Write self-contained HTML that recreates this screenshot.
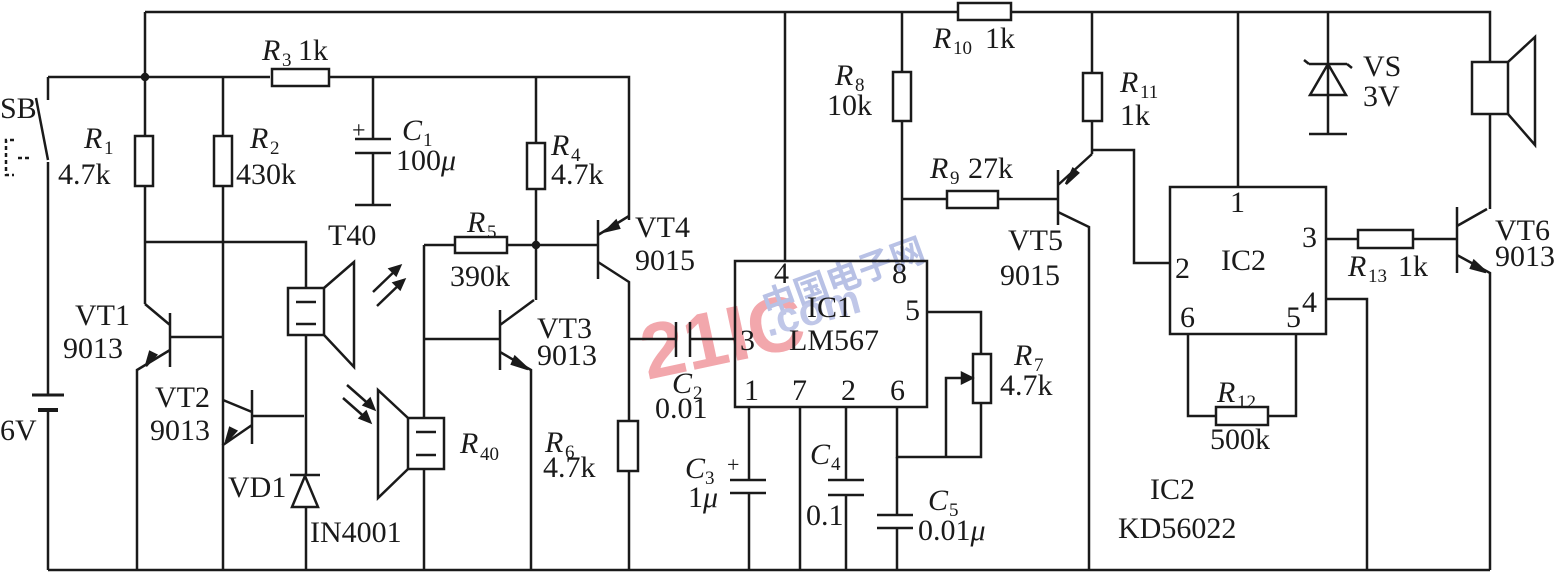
<!DOCTYPE html>
<html><head><meta charset="utf-8"><style>
html,body{margin:0;padding:0;background:#fff;}
svg{display:block;}
text{font-family:"Liberation Serif",serif;font-size:30px;fill:#1a1a1a;}
.i{font-style:italic;}
.s{font-size:19px;}
</style></head><body>
<svg width="1558" height="575" viewBox="0 0 1558 575" xmlns="http://www.w3.org/2000/svg">
<!-- watermark -->
<g opacity="0.55">
<text x="640" y="370" transform="rotate(-12 690 340)" style="font-family:'Liberation Sans',sans-serif;font-weight:bold;font-size:78px;fill:#e8606a">21IC</text>
<text x="760" y="305" transform="rotate(-20 800 290)" style="font-family:'Liberation Sans','Noto Sans CJK SC',sans-serif;font-weight:bold;font-size:34px;fill:#7f8fd0">中国电子网</text>
<text x="765" y="328" transform="rotate(-15 800 320)" style="font-family:'Liberation Sans',sans-serif;font-weight:bold;font-size:42px;fill:#8d9ad6">.com</text>
</g>
<g stroke="#1a1a1a" stroke-width="2.5" fill="none">
<path d="M145 12 H957 M1011 12 H1490 V62"/>
<path d="M48 77 H270 M330 77 H629 V220"/>
<path d="M145 12 V136 M145 185 V304"/>
<path d="M48 77 V100 M36 98 L48 160 M48 162 V395 M48 410 V570"/>
<path d="M14 140 H6 V175 H14 M18 158 H30" stroke-dasharray="4 3"/>
<path d="M32 395 H64" stroke-width="3"/>
<path d="M38 410 H58" stroke-width="4"/>
<path d="M48 570 H1490"/>
<rect x="135" y="136" width="18" height="50"/>
<rect x="214" y="136" width="18" height="50"/>
<path d="M223 77 V136 M223 186 V445"/>
<rect x="272" y="69" width="57" height="17"/>
<path d="M373 77 V139 M355 139 H391 M355 153 H391 M373 153 V205 M355 205 H391"/>
<path d="M145 242 H306 V288"/>
<!-- VT1 -->
<path d="M145 304 L170 325 M170 313 V367 M170 337 H223 M170 350 L137 370 V570"/>
<path d="M146 366 L156 355 L150 352 Z" fill="#1a1a1a"/>
<!-- VT2 -->
<path d="M223 400 L252 412 M252 390 V444 M252 416 H304 M252 425 L223 445 V570"/>
<path d="M226 442 L236 431 L230 428 Z" fill="#1a1a1a"/>
<!-- T40 -->
<rect x="288" y="288" width="36" height="47"/>
<path d="M296 302 H316 M296 324 H316"/>
<path d="M324 288 L354 262 V367 L324 335"/>
<path d="M306 335 V475 M306 508 V570"/>
<path d="M290 475 H320 M305 476 L292 507 H318 Z"/>
<!-- light arrows -->
<path d="M373 292 L398 268 M377 306 L402 282"/>
<path d="M400 266 L390 269 L396 275 Z M404 280 L394 283 L400 289 Z" fill="#1a1a1a"/>
<path d="M343 398 L368 420 M347 385 L372 407"/>
<path d="M370 422 L366 412 L360 418 Z M374 409 L370 399 L364 405 Z" fill="#1a1a1a"/>
<!-- R40 -->
<rect x="408" y="418" width="36" height="51"/>
<path d="M416 432 H436 M416 455 H436"/>
<path d="M408 418 L378 390 V498 L408 469"/>
<path d="M424 245 V418 M424 469 V570"/>
<path d="M424 245 H455 M507 245 H598"/>
<rect x="455" y="237" width="52" height="16"/>
<circle cx="536" cy="245" r="3" fill="#1a1a1a"/>
<circle cx="145" cy="77" r="3" fill="#1a1a1a"/>
<path d="M536 77 V143 M536 189 V300"/>
<rect x="527" y="143" width="18" height="46"/>
<!-- VT3 -->
<path d="M424 339 H500 M500 310 V370 M500 325 L534 300 M500 352 L531 370 V570"/>
<path d="M528 369 L515 357 L512 364 Z" fill="#1a1a1a"/>
<!-- VT4 -->
<path d="M598 220 V279 M598 235 L629 216 M598 262 L629 282 V421 M629 471 V570"/>
<path d="M606 231 L616 221 L619 228 Z" fill="#1a1a1a"/>
<rect x="618" y="421" width="20" height="50"/>
<path d="M629 339 H676 M676 322 V357 M690 322 V357 M690 339 H735"/>
<!-- IC1 -->
<rect x="735" y="261" width="192" height="146"/>
<path d="M785 12 V261 M902 12 V72 M902 121 V261"/>
<rect x="893" y="72" width="18" height="49"/>
<rect x="958" y="3" width="53" height="17"/>
<path d="M902 199 H947 M998 199 H1058"/>
<rect x="947" y="191" width="51" height="17"/>
<path d="M1092 12 V73 M1092 121 V154"/>
<rect x="1083" y="73" width="19" height="48"/>
<!-- VT5 -->
<path d="M1058 170 V225 M1058 185 L1092 154 M1058 212 L1089 227 V570"/>
<path d="M1066 184 L1078 173 L1073 169 Z" fill="#1a1a1a"/>
<path d="M1092 150 H1134 V263 H1170"/>
<path d="M927 312 H981 V354 M981 403 V457 H897 V407"/>
<rect x="973" y="354" width="18" height="49"/>
<path d="M946 457 V378 H970"/>
<path d="M972 378 L962 373 L962 383 Z" fill="#1a1a1a"/>
<path d="M749 407 V480 M749 493 V570 M730 480 H766 M730 493 H766"/>
<path d="M800 407 V570"/>
<path d="M846 407 V480 M846 495 V570 M828 480 H864 M828 495 H864"/>
<path d="M897 457 V515 M897 528 V570 M877 515 H913 M877 528 H913"/>
<!-- IC2 -->
<rect x="1170" y="187" width="156" height="147"/>
<path d="M1238 12 V187"/>
<path d="M1188 334 V416 H1216 M1268 416 H1296 V334"/>
<rect x="1216" y="407" width="52" height="18"/>
<path d="M1326 239 H1358 M1413 239 H1457"/>
<rect x="1358" y="230" width="55" height="18"/>
<path d="M1326 299 H1367 V570"/>
<path d="M1328 12 V134 M1309 134 H1347 M1309 64 H1347 M1328 64 L1310 95 H1346 Z M1309 64 L1304 60 M1347 64 L1352 68"/>
<rect x="1472" y="62" width="36" height="52"/>
<path d="M1508 62 L1535 37 V145 L1508 114"/>
<path d="M1490 114 V209"/>
<path d="M1457 207 V273 M1457 226 L1487 209 M1457 255 L1490 273 V570"/>
<path d="M1486 272 L1474 261 L1471 268 Z" fill="#1a1a1a"/>
</g>
<text x="0" y="118">SB</text>
<text x="0" y="440">6V</text>
<text x="84" y="148" class="i">R</text><text x="104" y="154" class="s">1</text>
<text x="58" y="184">4.7k</text>
<text x="250" y="148" class="i">R</text><text x="270" y="154" class="s">2</text>
<text x="236" y="184">430k</text>
<text x="262" y="60" class="i">R</text><text x="282" y="66" class="s">3</text><text x="298" y="60">1k</text>
<text x="352" y="138" style="font-size:24px">+</text>
<text x="402" y="140" class="i">C</text><text x="423" y="146" class="s">1</text>
<text x="396" y="170">100<tspan class="i">μ</tspan></text>
<text x="551" y="155" class="i">R</text><text x="571" y="161" class="s">4</text>
<text x="551" y="184">4.7k</text>
<text x="328" y="245">T40</text>
<text x="635" y="237">VT4</text>
<text x="635" y="270">9015</text>
<text x="467" y="232" class="i">R</text><text x="487" y="238" class="s">5</text>
<text x="450" y="286">390k</text>
<text x="75" y="325">VT1</text>
<text x="63" y="358">9013</text>
<text x="155" y="407">VT2</text>
<text x="150" y="440">9013</text>
<text x="537" y="338">VT3</text>
<text x="537" y="365">9013</text>
<text x="228" y="497">VD1</text>
<text x="310" y="542">IN4001</text>
<text x="460" y="453" class="i">R</text><text x="480" y="460" class="s">40</text>
<text x="545" y="452" class="i">R</text><text x="565" y="458" class="s">6</text>
<text x="543" y="477">4.7k</text>
<text x="672" y="393" class="i">C</text><text x="693" y="399" class="s">2</text>
<text x="655" y="418">0.01</text>
<text x="727" y="472" style="font-size:22px">+</text>
<text x="685" y="478" class="i">C</text><text x="705" y="484" class="s">3</text>
<text x="688" y="507">1<tspan class="i">μ</tspan></text>
<text x="810" y="464" class="i">C</text><text x="831" y="470" class="s">4</text>
<text x="806" y="525">0.1</text>
<text x="928" y="510" class="i">C</text><text x="949" y="516" class="s">5</text>
<text x="918" y="540">0.01<tspan class="i">μ</tspan></text>
<text x="774" y="283">4</text><text x="892" y="283">8</text>
<text x="905" y="320">5</text><text x="740" y="350">3</text>
<text x="807" y="317">IC1</text>
<text x="789" y="350">LM567</text>
<text x="744" y="400">1</text><text x="792" y="400">7</text><text x="841" y="400">2</text><text x="890" y="400">6</text>
<text x="1014" y="365" class="i">R</text><text x="1034" y="371" class="s">7</text>
<text x="1000" y="395">4.7k</text>
<text x="835" y="85" class="i">R</text><text x="855" y="91" class="s">8</text>
<text x="827" y="115">10k</text>
<text x="933" y="48" class="i">R</text><text x="953" y="54" class="s">10</text><text x="985" y="48">1k</text>
<text x="1120" y="92" class="i">R</text><text x="1140" y="98" class="s">11</text>
<text x="1120" y="125">1k</text>
<text x="930" y="178" class="i">R</text><text x="950" y="184" class="s">9</text><text x="968" y="178">27k</text>
<text x="1008" y="250">VT5</text>
<text x="1000" y="285">9015</text>
<text x="1363" y="76">VS</text>
<text x="1363" y="106">3V</text>
<text x="1221" y="270">IC2</text>
<text x="1230" y="212">1</text><text x="1175" y="278">2</text><text x="1302" y="247">3</text>
<text x="1180" y="327">6</text><text x="1286" y="327">5</text><text x="1302" y="312">4</text>
<text x="1348" y="276" class="i">R</text><text x="1368" y="282" class="s">13</text><text x="1398" y="276">1k</text>
<text x="1495" y="240">VT6</text>
<text x="1495" y="266">9013</text>
<text x="1217" y="402" class="i">R</text><text x="1237" y="408" class="s">12</text>
<text x="1210" y="449">500k</text>
<text x="1150" y="499">IC2</text>
<text x="1118" y="538">KD56022</text>
</svg>
</body></html>
